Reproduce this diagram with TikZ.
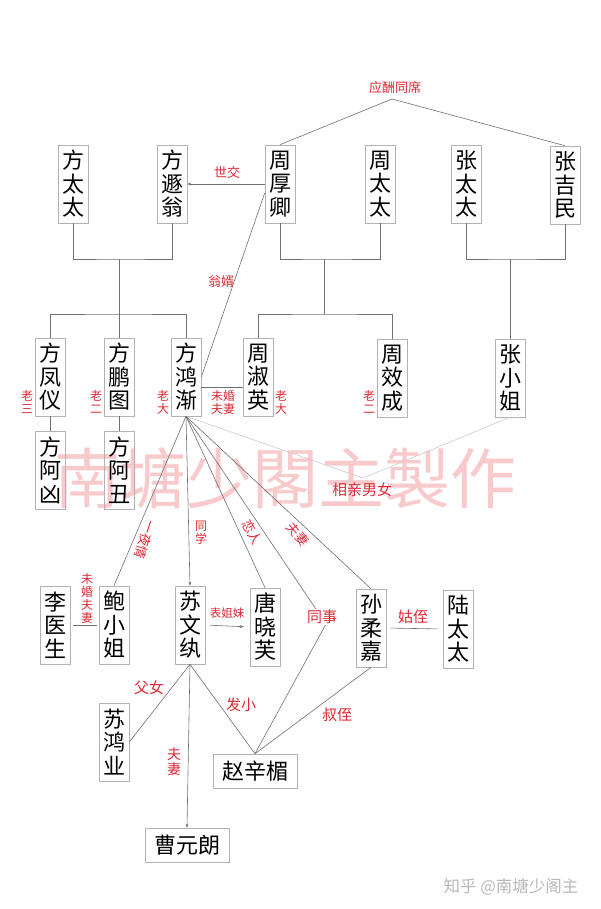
\documentclass[tikz,border=0pt]{standalone}
\usepackage{fontspec}
\setmainfont{Noto Sans CJK SC}
\usepackage{tikz}
\usetikzlibrary{arrows.meta, positioning}

\definecolor{lblred}{RGB}{222,40,52}
\definecolor{wmpink}{RGB}{248,202,204}
\definecolor{boxgray}{RGB}{178,178,178}
\definecolor{linegray}{RGB}{112,112,112}

\begin{document}
\begin{tikzpicture}[
  x=1pt, y=-1pt,
  person/.style={draw=boxgray, line width=0.6pt, minimum width=30pt, minimum height=78pt, inner sep=1pt, align=center, font=\fontsize{22}{23.5}\selectfont},
  wide/.style={person, minimum width=84pt, minimum height=34pt},
  lbl/.style={text=lblred, inner sep=1pt, align=center, font=\fontsize{13}{14}\selectfont},
  vlbl/.style={lbl, font=\fontsize{12}{13}\selectfont},
  big/.style={lbl, font=\fontsize{15}{16}\selectfont},
  line/.style={draw=linegray, line width=0.6pt},
  faint/.style={draw=gray!40, line width=0.6pt},
  arr/.style={line, -{Stealth[length=4pt, width=3pt]}}
]
\useasboundingbox (0,0) rectangle (600,909);

% Watermark
\node[text=wmpink, font=\fontsize{66}{70}\selectfont] (mark) at (285,478) {南塘少閣主製作};

% Parents
\node[person] (fangtt) at (73,184) {方\\太\\太};
\node[person] (fangdw) at (172,184) {方\\遯\\翁};
\node[person] (zhouhq) at (280,184) {周\\厚\\卿};
\node[person] (zhoutt) at (380,184) {周\\太\\太};
\node[person] (zhangtt) at (466,184) {张\\太\\太};
\node[person] (zhangjm) at (565,185) {张\\吉\\民};

% Children
\node[person] (fangfy) at (50,377) {方\\凤\\仪};
\node[person] (fangpt) at (119,377) {方\\鹏\\图};
\node[person] (fanghj) at (186,377) {方\\鸿\\渐};
\node[person] (zhousy) at (258,377) {周\\淑\\英};
\node[person] (zhouxc) at (392,378) {周\\效\\成};
\node[person] (zhangxj) at (510,378) {张\\小\\姐};

\node[person] (fangax) at (50,470) {方\\阿\\凶};
\node[person] (fangac) at (119,470) {方\\阿\\丑};

% Others
\node[person] (lidoc) at (55,625) {李\\医\\生};
\node[person] (baoxj) at (114,625) {鲍\\小\\姐};
\node[person] (suwz) at (190,625) {苏\\文\\纨};
\node[person] (tangxf) at (265,627) {唐\\晓\\芙};
\node[person] (sunrj) at (371,628) {孙\\柔\\嘉};
\node[person] (lutt) at (458,629) {陆\\太\\太};
\node[person] (suhy) at (114,742) {苏\\鸿\\业};
\node[wide] (zhaoxm) at (255,771) {赵辛楣};
\node[wide] (caoyl) at (187,845) {曹元朗};

% Family lines
\coordinate (fangpar) at (119,259);
\coordinate (fangkid) at (119,314);
\coordinate (zhoupar) at (324,259);
\coordinate (zhoukid) at (324,314);
\coordinate (zhangpar) at (510,259);
\draw[line] (fangtt.south) |- (fangpar) -| (fangdw.south);
\draw[line] (fangpar) -- (fangkid);
\draw[line] (fangfy.north) |- (fangkid) -| (fanghj.north);
\draw[line] (fangpt.north) -- (fangpt.north |- fangkid);
\draw[line] (zhouhq.south) |- (zhoupar) -| (zhoutt.south);
\draw[line] (zhoupar) -- (zhoukid);
\draw[line] (zhousy.north) |- (zhoukid) -| (zhouxc.north);
\draw[line] (zhangtt.south) |- (zhangpar) -| (zhangjm.south);
\draw[line] (zhangpar) -- (zhangxj.north);
\draw[line] (fangfy.south) -- (fangax.north);
\draw[line] (fangpt.south) -- (fangac.north);

% Top relations
\coordinate (feast) at (392,99);
\draw[line] (zhouhq.north) -- (feast) -- (zhangjm.north);
\node[lbl] (feastlbl) at (395,88) {应酬同席};
\draw[arr] (zhouhq.west) -- (fangdw.east);
\node[lbl] (shijiao) at (227,173) {世交};
\draw[line] (fanghj.east) -- ([yshift=-9pt]zhouhq.west);
\node[lbl] (wengxu) at (221,282) {翁婿};
\draw[line] ([yshift=-10pt]fanghj.east) -- ([yshift=-10pt]zhousy.west);
\node[vlbl] (weihun) at (223,402) {未婚\\夫妻};

% Birth order
\node[vlbl] (fyord) at (27,402) {老\\三};
\node[vlbl] (ptord) at (96,402) {老\\二};
\node[vlbl] (hjord) at (163,402) {老\\大};
\node[vlbl] (syord) at (281,402) {老\\大};
\node[vlbl] (xcord) at (369,402) {老\\二};

% Fang Hongjian's fan
\coordinate (tsbend) at (326,624);
\coordinate (xqbend) at (363,478);
\draw[faint] (fanghj.south) -- (xqbend) -- (zhangxj.south);
\node[big] (xiangqin) at (362,490) {相亲男女};
\draw[line] (fanghj.south) -- (baoxj.north);
\node[lbl, rotate=-108] (yiye) at (145,540) {一夜情};
\draw[arr] (fanghj.south) -- (suwz.north);
\node[vlbl] (tongxue) at (201,533) {同\\学};
\draw[line] (fanghj.south) -- (tangxf.north);
\node[lbl, rotate=-60] (lianren) at (252,532) {恋人};
\draw[line] (fanghj.south) -- (sunrj.north);
\node[lbl, rotate=-50] (fuqi) at (298,534) {夫妻};
\draw[line] (fanghj.south) -- (tsbend) -- (zhaoxm.north);
\node[big, fill=white] (tongshi) at (322,617) {同事};

% Lower relations
\draw[line, shorten <=3pt, shorten >=2pt] (lidoc.east) -- (baoxj.west);
\node[vlbl] (weihun2) at (87,598) {未\\婚\\夫\\妻};
\draw[arr, shorten <=5pt, shorten >=6pt] (suwz.east) -- (tangxf.west);
\node[lbl, font=\fontsize{11.5}{13}\selectfont] (biaojm) at (227,613) {表姐妹};
\draw[line, shorten <=4pt, shorten >=5pt] (sunrj.east) -- (lutt.west);
\node[big] (guzhi) at (413,617) {姑侄};
\draw[line] (suwz.south) -- (suhy.east);
\node[big] (funv) at (149,688) {父女};
\draw[line] (suwz.south) -- (zhaoxm.north);
\node[big] (faxiao) at (241,705) {发小};
\draw[line] (sunrj.south) -- (zhaoxm.north);
\node[big] (shuzhi) at (337,715) {叔侄};
\draw[arr] (suwz.south) -- (caoyl.north);
\node[vlbl, font=\fontsize{14}{15}\selectfont] (fuqi2) at (174,762) {夫\\妻};

% Credit
\node[text=gray!55, font=\fontsize{16.5}{18}\selectfont] (credit) at (511,887) {知乎 @南塘少阁主};

\end{tikzpicture}
\end{document}
